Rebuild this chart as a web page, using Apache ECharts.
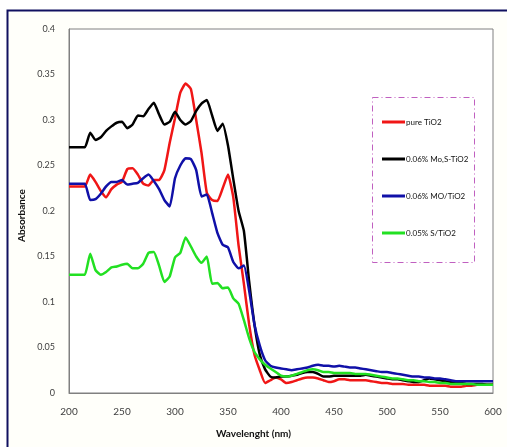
<!DOCTYPE html>
<html>
<head>
  <meta charset="utf-8">
  <title>Absorbance</title>
  <script src="https://cdn.jsdelivr.net/npm/echarts@6/dist/echarts.min.js"></script>
</head>
<body style="margin:0;background:#fff">
<div id="main" style="width:507px;height:447px"></div>
<script>
// wavelength grid (nm), every 5 nm
var wavelengths = [];
for (var w = 200; w <= 600; w += 5) wavelengths.push(w);

var seriesNames = ['pure TiO2', '0.06% Mo,S-TiO2', '0.06% MO/TiO2', '0.05% S/TiO2'];

var pureTiO2 = [
  .227, .227, .227, .227, .240, .232, .222, .215, .224, .229, .232, .246, .247, .240, .230, .228,
  .234, .234, .245, .275, .302, .330, .340, .334, .300, .264, .220, .212, .211, .225, .240, .215,
  .162, .120, .075, .042, .025, .011, .014, .017, .015, .011, .012, .014, .016, .017, .017, .016,
  .014, .012, .013, .015, .015, .014, .014, .014, .014, .013, .012, .011, .011, .010, .010, .010,
  .009, .009, .009, .009, .008, .008, .008, .008, .007, .007, .007, .008, .008, .009, .009, .009, .009
];
var moS = [
  .270, .270, .270, .270, .286, .278, .281, .288, .293, .297, .298, .291, .295, .305, .304, .312,
  .319, .306, .295, .298, .309, .300, .295, .299, .310, .318, .322, .305, .288, .296, .272, .235,
  .200, .178, .122, .075, .042, .026, .018, .017, .018, .018, .019, .020, .022, .023, .023, .021,
  .018, .018, .019, .019, .019, .019, .019, .019, .020, .019, .018, .017, .016, .015, .015, .014,
  .013, .012, .012, .014, .016, .015, .014, .013, .012, .011, .011, .010, .010, .010, .010, .009, .009
];
var moTiO2 = [
  .230, .230, .230, .230, .212, .213, .219, .227, .232, .232, .234, .229, .230, .231, .236, .240,
  .233, .224, .212, .205, .236, .250, .258, .257, .245, .216, .218, .198, .176, .163, .160, .144,
  .137, .140, .112, .075, .052, .036, .030, .028, .027, .026, .025, .026, .027, .028, .030, .031,
  .030, .030, .029, .030, .029, .028, .028, .027, .026, .025, .024, .023, .023, .022, .021, .020,
  .019, .018, .018, .017, .017, .016, .016, .015, .014, .013, .013, .013, .013, .013, .013, .013, .013
];
var sTiO2 = [
  .130, .130, .130, .130, .153, .135, .130, .133, .138, .139, .141, .142, .137, .137, .142, .154,
  .155, .140, .122, .128, .149, .154, .171, .161, .150, .143, .150, .120, .121, .115, .116, .104,
  .098, .080, .060, .045, .037, .031, .027, .023, .019, .018, .019, .021, .023, .025, .026, .025,
  .023, .023, .022, .022, .022, .022, .021, .021, .021, .020, .019, .018, .017, .016, .016, .015,
  .014, .014, .013, .013, .012, .012, .011, .011, .010, .010, .010, .010, .010, .009, .009, .009, .009
];

var colors = ['#f01616', '#000000', '#1010a8', '#22e022'];
var values = [pureTiO2, moS, moTiO2, sTiO2];

function pairs(arr) {
  return wavelengths.map(function (x, i) { return [x, arr[i]]; });
}

var chart = echarts.init(document.getElementById('main'), null, { renderer: 'canvas' });

var option = {
  animation: false,
  backgroundColor: '#ffffff',
  textStyle: { fontFamily: 'Lato' },
  graphic: [
    {
      type: 'rect', z: -10, silent: true,
      shape: { x: 7.5, y: 10.5, width: 520, height: 460 },
      style: { fill: '#fffffa', stroke: '#101060', lineWidth: 2 }
    },
    {
      type: 'rect', z: 10, silent: true,
      shape: { x: 372.5, y: 97.5, width: 102, height: 165 },
      style: { fill: '#ffffff', stroke: '#c060c0', lineWidth: 1, lineDash: [6, 3, 1, 3] }
    },
    {
      type: 'text', left: 'center', top: 429,
      style: { text: 'Wavelenght (nm)', font: 'bold 10px Lato', fill: '#111' }
    },
    {
      type: 'text', x: 17, y: 242, rotation: Math.PI / 2,
      style: { text: 'Absorbance', font: 'bold 10px Lato', fill: '#111' }
    }
  ],
  legend: {
    orient: 'vertical',
    left: 377,
    top: 113,
    z: 20,
    itemGap: 29,
    itemWidth: 23,
    itemHeight: 3,
    icon: 'rect',
    textStyle: { fontSize: 8, color: '#111', padding: [0, 0, 0, -4], fontFamily: 'Lato' },
    data: seriesNames
  },
  grid: {
    left: 69, right: 14, top: 29, bottom: 54,
    show: true, borderColor: '#808080', borderWidth: 1, backgroundColor: '#ffffff'
  },
  xAxis: {
    type: 'value', min: 200, max: 600, interval: 50,
    axisLine: { show: true, lineStyle: { color: '#808080' } },
    axisTick: { show: false },
    splitLine: { show: false },
    axisLabel: { fontSize: 10, color: '#404040', margin: 14 }
  },
  yAxis: {
    type: 'value', min: 0, max: 0.4, interval: 0.05,
    axisLine: { show: true, lineStyle: { color: '#808080' } },
    axisTick: { show: false },
    splitLine: { show: false },
    axisLabel: { fontSize: 9, color: '#404040', margin: 14 }
  },
  series: values.map(function (arr, i) {
    return {
      name: seriesNames[i],
      type: 'line',
      data: pairs(arr),
      showSymbol: false,
      smooth: 0.15,
      lineStyle: { color: colors[i], width: 2.5 },
      itemStyle: { color: colors[i] }
    };
  })
};

chart.setOption(option);
</script>
</body>
</html>
